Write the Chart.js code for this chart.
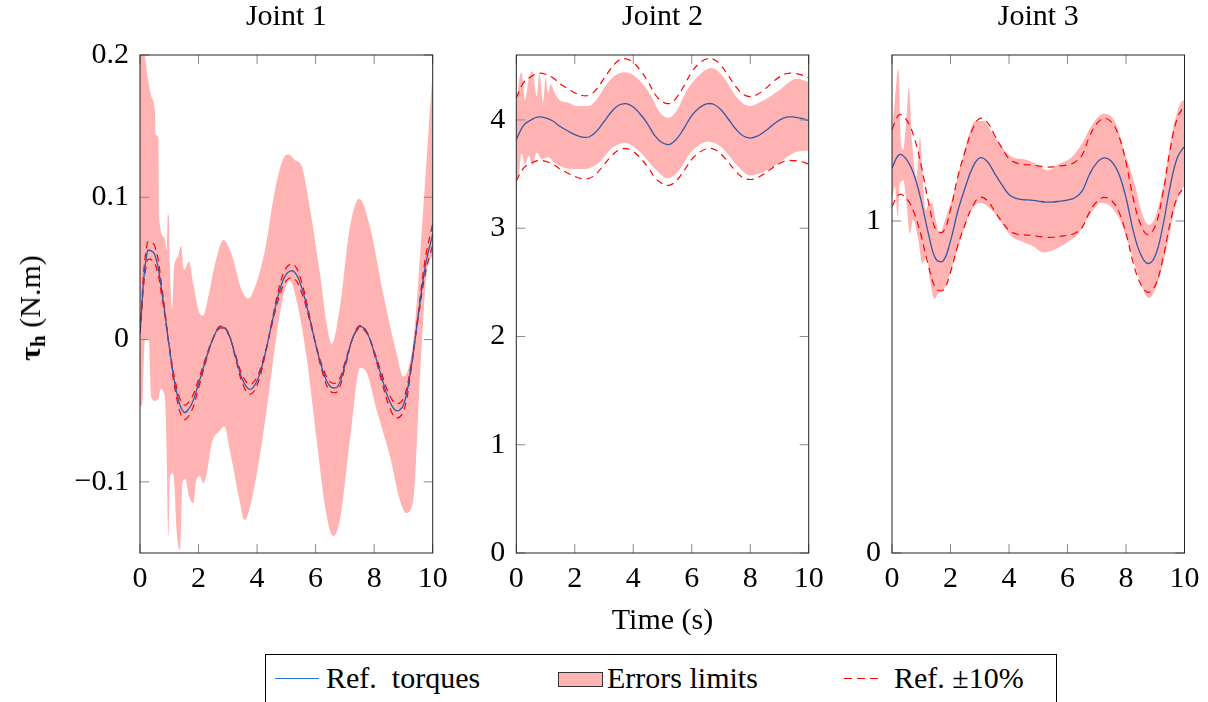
<!DOCTYPE html>
<html>
<head>
<meta charset="utf-8">
<script src="https://cdn.jsdelivr.net/npm/chart.js@4.4.0/dist/chart.umd.min.js"></script>
<style>
  body { margin: 0; background: #fff; width: 1208px; height: 702px; overflow: hidden; position: relative;
         font-family: 'Liberation Serif', serif; color: #000; }
  canvas { position: absolute; top: 0; }
  #c1 { left: 0; }
  #c2 { left: 460px; }
  #c3 { left: 840px; }
  #ylabel { position: absolute; left: 30px; top: 308px; font-size: 30px; line-height: 30px; white-space: nowrap;
            transform: translate(-50%, -50%) rotate(-90deg); }
  #ylabel sub { font-size: 21px; vertical-align: -5px; line-height: 0; }
  #legend { position: absolute; left: 265px; top: 654px; width: 792px; height: 70px; border: 1px solid #000; box-sizing: border-box; }
  .lg { position: absolute; font-size: 30px; line-height: 30px; top: 8px; white-space: nowrap; }
  .sw { position: absolute; }
</style>
</head>
<body>
<canvas id="c1" width="460" height="640"></canvas>
<canvas id="c2" width="380" height="640"></canvas>
<canvas id="c3" width="368" height="640"></canvas>
<div id="ylabel"><b>τ<sub>h</sub></b> (N.m)</div>
<div id="legend">
  <div class="sw" style="left:9px;top:23px;width:44px;height:0;border-top:1.3px solid rgb(40,120,210);"></div>
  <div class="lg" style="left:60px;">Ref.&nbsp; torques</div>
  <div class="sw" style="left:292px;top:17px;width:45px;height:15px;background:rgb(255,179,179);border:1px solid #333;box-sizing:border-box;"></div>
  <div class="lg" style="left:341px;">Errors limits</div>
  <div class="sw" style="left:578px;top:23px;width:38px;height:1px;background:repeating-linear-gradient(to right, #f00 0 8px, transparent 8px 13px);"></div>
  <div class="lg" style="left:628px;">Ref. ±10%</div>
</div>
<script>
// sample times (s) for the reference curves
var time = [0, 0.25, 0.5, 0.75, 1, 1.25, 1.5, 1.75, 2, 2.25, 2.5, 2.75, 3, 3.25, 3.5, 3.75, 4, 4.25, 4.5, 4.75, 5,
            5.25, 5.5, 5.75, 6, 6.25, 6.5, 6.75, 7, 7.25, 7.5, 7.75, 8, 8.25, 8.5, 8.75, 9, 9.25, 9.5, 9.75, 10];
var xTicks = [0, 2, 4, 6, 8, 10];

// Joint 1
var ref1 = [0.005, 0.062, 0.060, 0.033, -0.005, -0.037, -0.051, -0.046, -0.031, -0.014, 0.001, 0.009, 0.005, -0.011,
            -0.028, -0.035, -0.029, -0.012, 0.011, 0.033, 0.046, 0.048, 0.038, 0.019, -0.003, -0.022, -0.033, -0.033,
            -0.018, 0.000, 0.009, 0.005, -0.009, -0.026, -0.042, -0.050, -0.046, -0.021, 0.016, 0.052, 0.074];
var ref1Plus = [0.0055, 0.0682, 0.066, 0.0363, -0.0055, -0.0407, -0.0561, -0.0506, -0.0341, -0.0154, 0.0011, 0.0099,
                0.0055, -0.0121, -0.0308, -0.0385, -0.0319, -0.0132, 0.0121, 0.0363, 0.0506, 0.0528, 0.0418, 0.0209,
                -0.0033, -0.0242, -0.0363, -0.0363, -0.0198, 0, 0.0099, 0.0055, -0.0099, -0.0286, -0.0462, -0.055,
                -0.0506, -0.0231, 0.0176, 0.0572, 0.0814];
var ref1Minus = [0.0045, 0.0558, 0.054, 0.0297, -0.0045, -0.0333, -0.0459, -0.0414, -0.0279, -0.0126, 0.0009, 0.0081,
                 0.0045, -0.0099, -0.0252, -0.0315, -0.0261, -0.0108, 0.0099, 0.0297, 0.0414, 0.0432, 0.0342, 0.0171,
                 -0.0027, -0.0198, -0.0297, -0.0297, -0.0162, 0, 0.0081, 0.0045, -0.0081, -0.0234, -0.0378, -0.045,
                 -0.0414, -0.0189, 0.0144, 0.0468, 0.0666];
var band1UpT = [0, 0.08, 0.17, 0.28, 0.40, 0.51, 0.53, 0.63, 0.65, 0.83, 0.91, 0.95, 0.99, 1.02, 1.10, 1.16, 1.29, 1.40,
                1.51, 1.60, 1.67, 1.82, 2.05, 2.16, 2.33, 2.56, 2.85, 3.13, 3.47, 3.70, 3.93, 4.27, 4.61, 4.95, 5.07,
                5.30, 5.52, 5.80, 6.15, 6.38, 6.55, 6.83, 7.17, 7.49, 7.86, 8.31, 8.77, 9.00, 9.34, 9.68, 10];
var band1Up = [0.21, 0.21, 0.199, 0.182, 0.170, 0.161, 0.144, 0.142, 0.086, 0.072, 0.063, 0.088, 0.086, 0.053, 0.021,
               0.050, 0.058, 0.066, 0.049, 0.052, 0.055, 0.039, 0.018, 0.017, 0.030, 0.053, 0.070, 0.060, 0.035, 0.029,
               0.037, 0.063, 0.105, 0.129, 0.130, 0.126, 0.122, 0.093, 0.046, 0.011, -0.003, 0.023, 0.079, 0.099, 0.079,
               0.032, -0.010, -0.026, 0.0, 0.093, 0.19];
var band1LoT = [0, 0.08, 0.12, 0.17, 0.30, 0.38, 0.50, 0.63, 0.70, 0.85, 0.91, 0.97, 1.02, 1.10, 1.17, 1.25, 1.37, 1.45,
                1.55, 1.67, 1.82, 1.93, 2.05, 2.16, 2.28, 2.45, 2.73, 2.88, 3.07, 3.24, 3.42, 3.57, 3.70, 3.93, 4.16,
                4.39, 4.61, 4.84, 5.01, 5.12, 5.35, 5.69, 6.04, 6.32, 6.60, 6.83, 7.17, 7.52, 7.74, 8.09, 8.54, 8.88,
                9.09, 9.34, 9.57, 9.79, 10];
var band1Lo = [-0.047, -0.045, -0.02, 0.0, 0.0, -0.04, -0.043, -0.042, -0.035, -0.04, -0.078, -0.138, -0.096, -0.094,
               -0.10, -0.134, -0.148, -0.101, -0.098, -0.110, -0.115, -0.098, -0.096, -0.101, -0.094, -0.073, -0.064,
               -0.061, -0.078, -0.096, -0.115, -0.127, -0.122, -0.101, -0.073, -0.040, -0.005, 0.025, 0.039, 0.0415,
               0.0275, -0.012, -0.071, -0.117, -0.138, -0.127, -0.071, -0.020, -0.023, -0.050, -0.082, -0.113, -0.122,
               -0.113, -0.024, 0.046, 0.06];
var yTicks1 = [-0.1, 0, 0.1, 0.2];

// Joint 2
var ref2 = [3.82, 3.95, 4.00, 4.028, 4.02, 3.99, 3.94, 3.90, 3.865, 3.842, 3.845, 3.897, 3.985, 4.073, 4.136, 4.150,
            4.12, 4.05, 3.96, 3.85, 3.789, 3.775, 3.83, 3.93, 4.04, 4.11, 4.148, 4.145, 4.094, 4.009, 3.919, 3.854,
            3.833, 3.852, 3.895, 3.95, 3.998, 4.026, 4.027, 4.015, 3.993];
var ref2Plus = [4.202, 4.345, 4.400, 4.431, 4.422, 4.389, 4.334, 4.290, 4.252, 4.226, 4.230, 4.287, 4.384, 4.480, 4.550,
                4.565, 4.532, 4.455, 4.356, 4.235, 4.168, 4.153, 4.213, 4.323, 4.444, 4.521, 4.563, 4.560, 4.503, 4.410,
                4.311, 4.239, 4.216, 4.237, 4.285, 4.345, 4.398, 4.429, 4.430, 4.417, 4.392];
var ref2Minus = [3.438, 3.555, 3.600, 3.625, 3.618, 3.591, 3.546, 3.510, 3.479, 3.458, 3.461, 3.507, 3.587, 3.666, 3.722,
                 3.735, 3.708, 3.645, 3.564, 3.465, 3.410, 3.398, 3.447, 3.537, 3.636, 3.699, 3.733, 3.731, 3.685, 3.608,
                 3.527, 3.469, 3.450, 3.467, 3.506, 3.555, 3.598, 3.623, 3.624, 3.614, 3.594];
var band2UpT = [0, 0.09, 0.18, 0.30, 0.41, 0.55, 0.70, 0.79, 0.92, 1.00, 1.09, 1.17, 1.32, 1.49, 1.78, 2.06, 2.46, 2.75,
                3.09, 3.43, 3.72, 4.12, 4.57, 4.91, 5.20, 5.48, 5.83, 6.28, 6.68, 7.08, 7.54, 7.99, 8.45, 9.02, 9.59, 10];
var band2Up = [4.11, 4.35, 4.44, 4.18, 4.36, 4.45, 4.22, 4.43, 4.16, 4.39, 4.25, 4.33, 4.25, 4.18, 4.16, 4.13, 4.13, 4.19,
               4.33, 4.42, 4.44, 4.39, 4.24, 4.07, 4.02, 4.085, 4.27, 4.42, 4.48, 4.40, 4.21, 4.13, 4.18, 4.28, 4.38, 4.35];
var band2LoT = [0, 0.09, 0.18, 0.30, 0.43, 0.55, 0.70, 0.87, 1.10, 1.32, 1.89, 2.35, 2.81, 3.27, 3.72, 4.18, 4.75, 5.18,
                5.54, 5.99, 6.56, 7.02, 7.59, 7.99, 8.50, 9.07, 9.53, 10];
var band2Lo = [3.44, 3.50, 3.69, 3.59, 3.67, 3.58, 3.70, 3.64, 3.655, 3.60, 3.548, 3.548, 3.60, 3.74, 3.79, 3.717, 3.548,
               3.462, 3.526, 3.707, 3.802, 3.747, 3.569, 3.487, 3.526, 3.619, 3.701, 3.717];
var yTicks2 = [0, 1, 2, 3, 4];

// Joint 3
var ref3 = [1.16, 1.20, 1.185, 1.14, 1.06, 0.96, 0.885, 0.88, 0.94, 1.03, 1.10, 1.16, 1.19, 1.18, 1.145, 1.11, 1.08,
            1.068, 1.064, 1.063, 1.06, 1.057, 1.057, 1.06, 1.063, 1.07, 1.09, 1.14, 1.175, 1.19, 1.18, 1.143, 1.07,
            0.97, 0.90, 0.872, 0.895, 0.98, 1.10, 1.19, 1.225];
var ref3Plus = [1.276, 1.320, 1.304, 1.254, 1.166, 1.056, 0.974, 0.968, 1.034, 1.133, 1.210, 1.276, 1.309, 1.298, 1.260,
                1.221, 1.188, 1.175, 1.170, 1.169, 1.166, 1.163, 1.163, 1.166, 1.169, 1.177, 1.199, 1.254, 1.293, 1.309,
                1.298, 1.257, 1.177, 1.067, 0.990, 0.959, 0.985, 1.078, 1.210, 1.309, 1.348];
var ref3Minus = [1.044, 1.080, 1.067, 1.026, 0.954, 0.864, 0.797, 0.792, 0.846, 0.927, 0.990, 1.044, 1.071, 1.062, 1.031,
                 0.999, 0.972, 0.961, 0.958, 0.957, 0.954, 0.951, 0.951, 0.954, 0.957, 0.963, 0.981, 1.026, 1.058, 1.071,
                 1.062, 1.029, 0.963, 0.873, 0.810, 0.785, 0.806, 0.882, 0.990, 1.071, 1.103];
var band3UpT = [0, 0.10, 0.22, 0.31, 0.39, 0.47, 0.58, 0.69, 0.84, 0.96, 1.04, 1.15, 1.27, 1.38, 1.47, 1.64, 1.81, 2.04,
                2.33, 2.61, 2.84, 3.12, 3.41, 3.75, 4.15, 4.55, 4.89, 5.33, 5.69, 6.15, 6.49, 6.83, 7.23, 7.63, 7.97,
                8.32, 8.55, 8.78, 9.00, 9.29, 9.57, 9.85, 10];
var band3Up = [1.273, 1.363, 1.458, 1.233, 1.215, 1.283, 1.403, 1.233, 1.133, 1.253, 1.153, 1.033, 1.053, 1.053, 1.013,
               0.963, 1.003, 1.063, 1.163, 1.253, 1.301, 1.301, 1.268, 1.223, 1.191, 1.185, 1.173, 1.153, 1.171, 1.193,
               1.233, 1.288, 1.323, 1.298, 1.203, 1.103, 1.023, 0.988, 1.013, 1.113, 1.263, 1.353, 1.365];
var band3LoT = [0, 0.10, 0.20, 0.27, 0.39, 0.50, 0.61, 0.72, 0.90, 1.04, 1.19, 1.30, 1.45, 1.59, 1.76, 1.99, 2.27, 2.61,
                3.01, 3.41, 3.75, 4.09, 4.44, 4.84, 5.18, 5.58, 6.04, 6.38, 6.72, 7.17, 7.74, 8.08, 8.43, 8.78, 9.12,
                9.40, 9.69, 9.92, 10];
var band3Lo = [1.063, 1.103, 1.013, 1.113, 1.123, 1.053, 0.963, 1.003, 0.943, 0.873, 0.893, 0.823, 0.765, 0.783, 0.793,
               0.843, 0.923, 1.013, 1.055, 1.033, 0.993, 0.953, 0.938, 0.923, 0.905, 0.915, 0.938, 0.963, 1.013, 1.055,
               1.013, 0.933, 0.833, 0.768, 0.823, 0.923, 1.043, 1.098, 1.103];
var yTicks3 = [0, 1];

var refColor = 'rgb(55, 88, 165)';
var bandColor = 'rgb(255, 179, 179)';
var dashColor = 'rgb(255, 0, 0)';
var TICK_LEN = 9;

Chart.defaults.font.family = "'Liberation Serif', serif";
Chart.defaults.font.size = 30;
Chart.defaults.color = '#000';

function pts(xs, ys) {
    return ys.map(function(y, i) { return {x: xs[i], y: y}; });
}

function fmt(v) {
    if (v < 0) return '\u2212' + Math.abs(v);
    return String(v);
}

// axis box and inward ticks, pgfplots style
var framePlugin = {
    id: 'frame',
    afterDraw: function(chart) {
        var ctx = chart.ctx, a = chart.chartArea;
        var xs = chart.scales.x, ys = chart.scales.y;
        ctx.save();
        ctx.lineWidth = 1;
        ctx.strokeStyle = '#8a8a8a';
        ctx.beginPath();
        xs.ticks.forEach(function(t) {
            var px = xs.getPixelForValue(t.value);
            ctx.moveTo(px, a.bottom); ctx.lineTo(px, a.bottom - TICK_LEN);
            ctx.moveTo(px, a.top); ctx.lineTo(px, a.top + TICK_LEN);
        });
        ys.ticks.forEach(function(t) {
            var py = ys.getPixelForValue(t.value);
            ctx.moveTo(a.left, py); ctx.lineTo(a.left + TICK_LEN, py);
            ctx.moveTo(a.right, py); ctx.lineTo(a.right - TICK_LEN, py);
        });
        ctx.stroke();
        ctx.strokeStyle = '#222';
        ctx.strokeRect(a.left, a.top, a.width, a.height);
        ctx.restore();
    }
};

function makeChart(id, title, p) {
    var ctx = document.getElementById(id).getContext('2d');
    return new Chart(ctx, {
        type: 'line',
        data: {
            datasets: [{
                label: 'Ref. torques',
                data: pts(time, p.ref),
                borderColor: refColor,
                borderWidth: 1.3,
                pointRadius: 0,
                tension: 0.4,
                fill: false
            }, {
                label: 'Ref. +10%',
                data: pts(time, p.plus),
                borderColor: dashColor,
                borderWidth: 1.2,
                borderDash: [7, 5],
                pointRadius: 0,
                tension: 0.4,
                fill: false
            }, {
                label: 'Ref. -10%',
                data: pts(time, p.minus),
                borderColor: dashColor,
                borderWidth: 1.2,
                borderDash: [7, 5],
                pointRadius: 0,
                tension: 0.4,
                fill: false
            }, {
                label: 'Errors limits',
                data: pts(p.upT, p.up),
                borderColor: 'rgba(0,0,0,0)',
                borderWidth: 0,
                backgroundColor: bandColor,
                pointRadius: 0,
                cubicInterpolationMode: 'monotone',
                fill: '+1'
            }, {
                label: 'lower',
                data: pts(p.loT, p.lo),
                borderColor: 'rgba(0,0,0,0)',
                borderWidth: 0,
                pointRadius: 0,
                cubicInterpolationMode: 'monotone',
                fill: false
            }]
        },
        options: {
            responsive: false,
            animation: false,
            layout: { padding: { left: 0, right: p.padRight, top: 0, bottom: 0 } },
            plugins: {
                legend: { display: false },
                tooltip: { enabled: false },
                title: {
                    display: true,
                    text: title,
                    fullSize: false,
                    font: { size: 30, weight: 'normal', lineHeight: 1 },
                    color: '#000',
                    padding: { top: 2, bottom: 23 }
                }
            },
            scales: {
                x: {
                    type: 'linear',
                    min: 0,
                    max: 10,
                    grid: { display: false, drawTicks: false },
                    border: { display: false },
                    afterBuildTicks: function(s) { s.ticks = xTicks.map(function(v) { return {value: v}; }); },
                    afterFit: function(s) { s.height = 87; },
                    ticks: { padding: 8, maxRotation: 0, callback: fmt },
                    title: {
                        display: !!p.xTitle,
                        text: p.xTitle || '',
                        font: { size: 30, lineHeight: 1 },
                        padding: { top: 0, bottom: 4 }
                    }
                },
                y: {
                    min: p.yMin,
                    max: p.yMax,
                    grid: { display: false, drawTicks: false },
                    border: { display: false },
                    afterBuildTicks: function(s) { s.ticks = p.yTicks.map(function(v) { return {value: v}; }); },
                    afterFit: function(s) { s.width = p.yWidth; },
                    ticks: { padding: 11, callback: fmt }
                }
            }
        },
        plugins: [framePlugin]
    });
}

makeChart('c1', 'Joint 1', {
    ref: ref1, plus: ref1Plus, minus: ref1Minus,
    upT: band1UpT, up: band1Up, loT: band1LoT, lo: band1Lo,
    yMin: -0.15, yMax: 0.2, yTicks: yTicks1, yWidth: 140, padRight: 27.3
});
makeChart('c2', 'Joint 2', {
    ref: ref2, plus: ref2Plus, minus: ref2Minus,
    upT: band2UpT, up: band2Up, loT: band2LoT, lo: band2Lo,
    yMin: 0, yMax: 4.6, yTicks: yTicks2, yWidth: 56.3, padRight: 31.3, xTitle: 'Time (s)'
});
makeChart('c3', 'Joint 3', {
    ref: ref3, plus: ref3Plus, minus: ref3Minus,
    upT: band3UpT, up: band3Up, loT: band3LoT, lo: band3Lo,
    yMin: 0, yMax: 1.5, yTicks: yTicks3, yWidth: 52, padRight: 23.5
});
</script>
</body>
</html>
